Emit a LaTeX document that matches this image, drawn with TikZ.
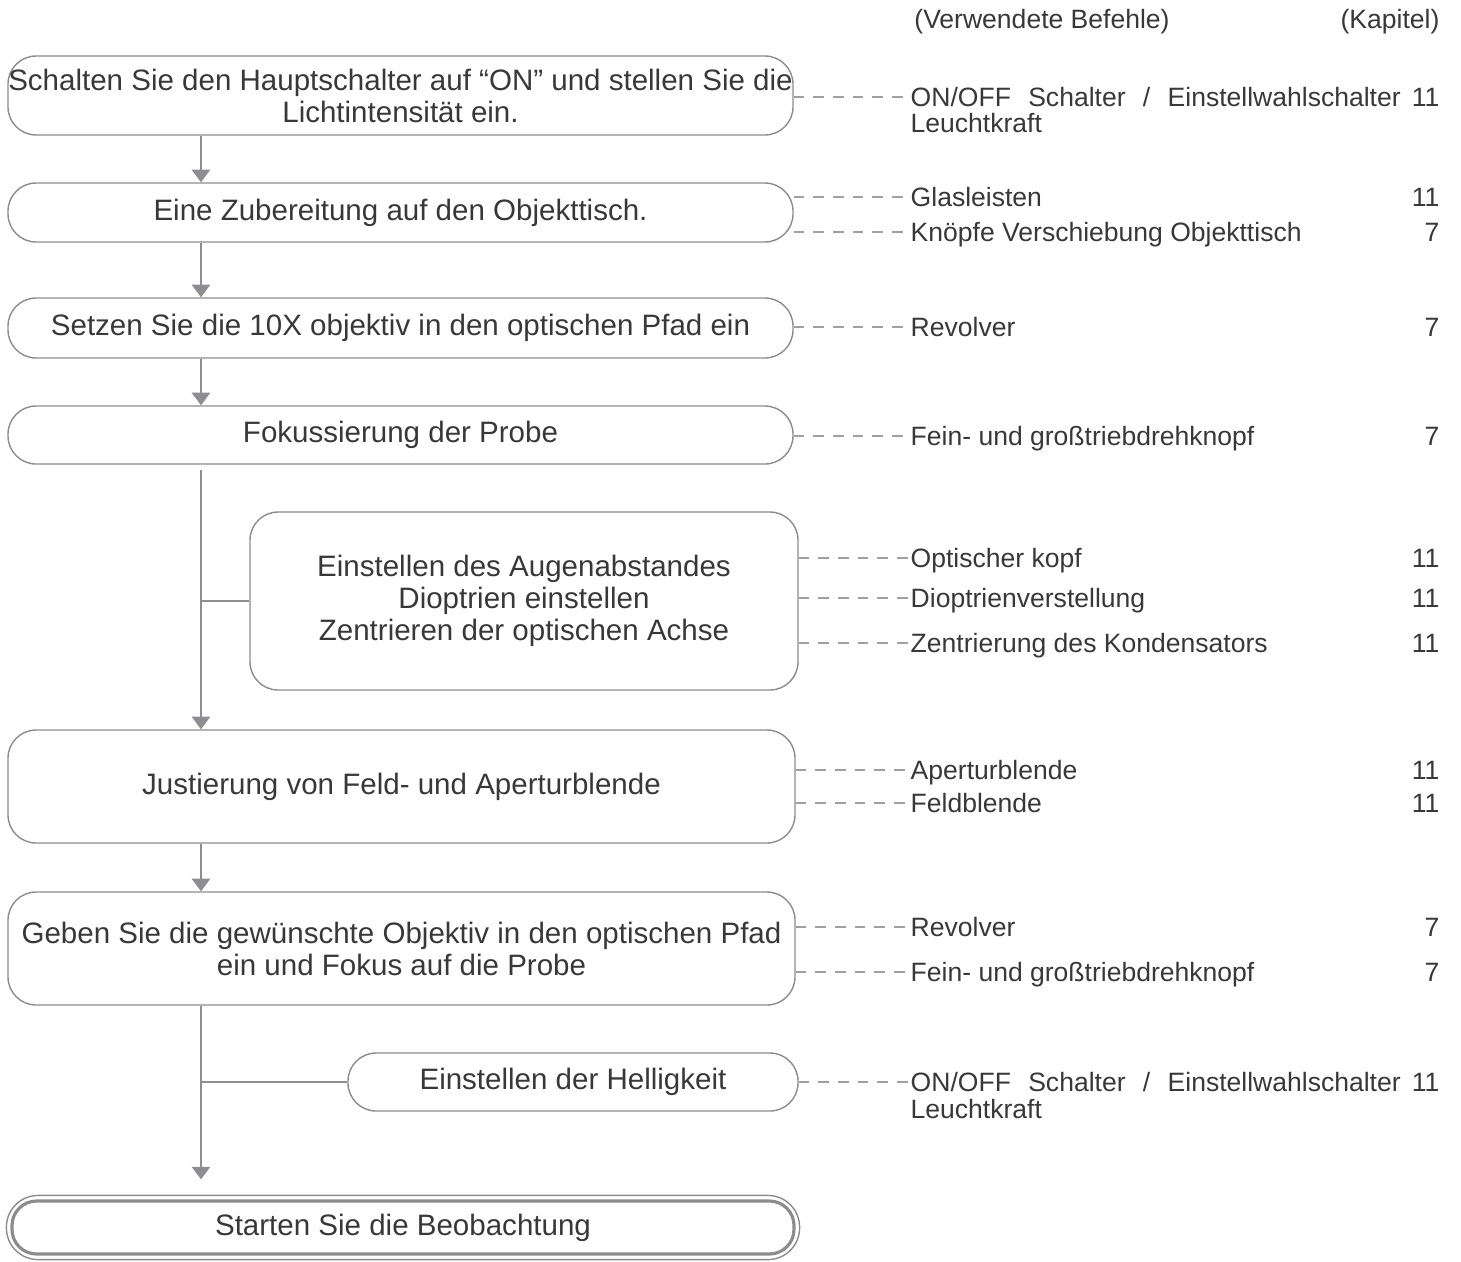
\documentclass[tikz,border=0pt]{standalone}
\usepackage{fontspec}
\setmainfont{Liberation Sans}
\usetikzlibrary{arrows.meta}

\definecolor{rahmen}{HTML}{8C8C8C}
\definecolor{linie}{HTML}{8E8E92}
\definecolor{strich}{HTML}{A0A0A0}
\definecolor{schrift}{HTML}{383838}

\begin{document}
\begin{tikzpicture}[
    font=\fontsize{7.55}{8.8}\selectfont, text=schrift,
    schritt/.style={draw=rahmen, line width=0.4pt, rounded corners=8pt, align=center, inner sep=0pt,
        font=\fontsize{8.4}{9.1}\selectfont},
    pfeil/.style={draw=linie, line width=0.65pt, -{Triangle[width=5.2pt,length=3.6pt]}},
    ast/.style={draw=linie, line width=0.65pt},
    hinweis/.style={draw=strich, line width=0.6pt, dash pattern=on 3pt off 2.6pt},
    befehl/.style={anchor=west, inner sep=0pt, text height=0.19cm, text depth=0pt},
    kapitel/.style={anchor=east, inner sep=0pt, text height=0.19cm, text depth=0pt}
]

    \useasboundingbox (0,0) rectangle (14.61,-12.61);

    % Kopfzeile
    \node (kopfB) at (10.42,-0.22) {(Verwendete Befehle)};
    \node (kopfK) at (13.90,-0.22) {(Kapitel)};

    % Hauptschritte (linke Spalte)
    \node[schritt, minimum width=7.85cm, minimum height=0.79cm] (s1) at (4.005,-0.955)
        {Schalten Sie den Hauptschalter auf “ON” und stellen Sie die\\Lichtintensität ein.};
    \node[schritt, minimum width=7.85cm, minimum height=0.59cm] (s2) at (4.005,-2.125)
        {Eine Zubereitung auf den Objekttisch.};
    \node[schritt, minimum width=7.85cm, minimum height=0.60cm] (s3) at (4.005,-3.28)
        {Setzen Sie die 10X objektiv in den optischen Pfad ein};
    \node[schritt, minimum width=7.85cm, minimum height=0.58cm] (s4) at (4.005,-4.35)
        {Fokussierung der Probe};
    \node[schritt, minimum width=5.48cm, minimum height=1.78cm] (s5) at (5.24,-6.01)
        {Einstellen des Augenabstandes\\Dioptrien einstellen\\Zentrieren der optischen Achse};
    \node[schritt, minimum width=7.87cm, minimum height=1.13cm] (s6) at (4.015,-7.865)
        {Justierung von Feld- und Aperturblende};
    \node[schritt, minimum width=7.87cm, minimum height=1.13cm] (s7) at (4.015,-9.485)
        {Geben Sie die gewünschte Objektiv in den optischen Pfad\\ein und Fokus auf die Probe};
    \node[schritt, minimum width=4.50cm, minimum height=0.58cm] (s8) at (5.73,-10.82)
        {Einstellen der Helligkeit};
    \node[schritt, line width=0.9pt, rounded corners=7pt, minimum width=7.82cm, minimum height=0.53cm] (s9) at (4.03,-12.275)
        {Starten Sie die Beobachtung};
    \draw[rahmen, line width=0.4pt, rounded corners=9pt]
        ([shift={(-0.04,0.04)}]s9.north west) rectangle ([shift={(0.04,-0.04)}]s9.south east);

    % Senkrechte Achse mit Pfeilen
    \coordinate (achse) at (2.01,0);
    \draw[pfeil] (s1.south -| achse) -- (s2.north -| achse);
    \draw[pfeil] (s2.south -| achse) -- (s3.north -| achse);
    \draw[pfeil] (s3.south -| achse) -- (s4.north -| achse);
    \draw[pfeil, shorten <=0.05cm] (s4.south -| achse) -- (s6.north -| achse);
    \draw[pfeil] (s6.south -| achse) -- (s7.north -| achse);
    \draw[pfeil, shorten >=0.2cm] (s7.south -| achse) -- (s9.north -| achse);

    % Abzweige zu den Nebenschritten
    \draw[ast] (achse |- s5.west) -- (s5.west);
    \draw[ast] (achse |- s8.west) -- (s8.west);

    % Verwendete Befehle (rechte Spalte)
    \node[befehl] (t1) at (9.10,-0.97) {\hbox to 4.9cm{ON/OFF\hfill Schalter\hfill /\hfill Einstellwahlschalter}};
    \node[befehl] (t1b) at (9.10,-1.23) {Leuchtkraft};
    \node[befehl] (t2) at (9.10,-1.97) {Glasleisten};
    \node[befehl] (t3) at (9.10,-2.32) {Knöpfe Verschiebung Objekttisch};
    \node[befehl] (t4) at (9.10,-3.27) {Revolver};
    \node[befehl] (t5) at (9.10,-4.36) {Fein- und großtriebdrehknopf};
    \node[befehl] (t6) at (9.10,-5.58) {Optischer kopf};
    \node[befehl] (t7) at (9.10,-5.98) {Dioptrienverstellung};
    \node[befehl] (t8) at (9.10,-6.43) {Zentrierung des Kondensators};
    \node[befehl] (t9) at (9.10,-7.70) {Aperturblende};
    \node[befehl] (t10) at (9.10,-8.03) {Feldblende};
    \node[befehl] (t11) at (9.10,-9.27) {Revolver};
    \node[befehl] (t12) at (9.10,-9.72) {Fein- und großtriebdrehknopf};
    \node[befehl] (t13) at (9.10,-10.82) {\hbox to 4.9cm{ON/OFF\hfill Schalter\hfill /\hfill Einstellwahlschalter}};
    \node[befehl] (t13b) at (9.10,-11.09) {Leuchtkraft};

    % Kapitelnummern
    \node[kapitel] (k1) at (14.40,-0.97) {11};
    \node[kapitel] (k2) at (14.40,-1.97) {11};
    \node[kapitel] (k3) at (14.40,-2.32) {7};
    \node[kapitel] (k4) at (14.40,-3.27) {7};
    \node[kapitel] (k5) at (14.40,-4.36) {7};
    \node[kapitel] (k6) at (14.40,-5.58) {11};
    \node[kapitel] (k7) at (14.40,-5.98) {11};
    \node[kapitel] (k8) at (14.40,-6.43) {11};
    \node[kapitel] (k9) at (14.40,-7.70) {11};
    \node[kapitel] (k10) at (14.40,-8.03) {11};
    \node[kapitel] (k11) at (14.40,-9.27) {7};
    \node[kapitel] (k12) at (14.40,-9.72) {7};
    \node[kapitel] (k13) at (14.40,-10.82) {11};

    % Gestrichelte Verbindungen
    \draw[hinweis] (t1.west -| s1.east) -- (t1.west);
    \draw[hinweis] (t2.west -| s2.east) -- (t2.west);
    \draw[hinweis] (t3.west -| s2.east) -- (t3.west);
    \draw[hinweis] (t4.west -| s3.east) -- (t4.west);
    \draw[hinweis] (t5.west -| s4.east) -- (t5.west);
    \draw[hinweis] (t6.west -| s5.east) -- (t6.west);
    \draw[hinweis] (t7.west -| s5.east) -- (t7.west);
    \draw[hinweis] (t8.west -| s5.east) -- (t8.west);
    \draw[hinweis] (t9.west -| s6.east) -- (t9.west);
    \draw[hinweis] (t10.west -| s6.east) -- (t10.west);
    \draw[hinweis] (t11.west -| s7.east) -- (t11.west);
    \draw[hinweis] (t12.west -| s7.east) -- (t12.west);
    \draw[hinweis] (t13.west -| s8.east) -- (t13.west);

\end{tikzpicture}
\end{document}
